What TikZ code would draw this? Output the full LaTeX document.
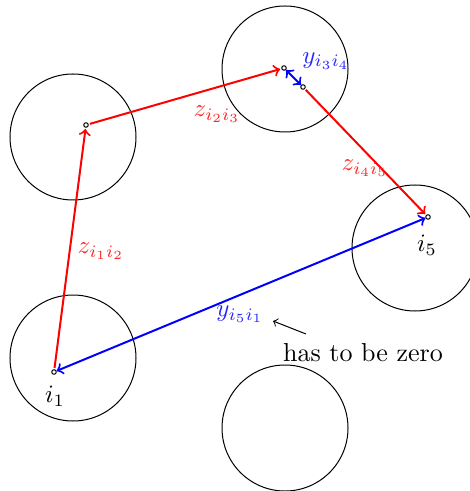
\documentclass[tikz,border=0pt]{standalone}
\begin{document}
\begin{tikzpicture}[x=0.4pt,y=-0.4pt,
  ring/.style={draw,circle,minimum size=50.4pt,inner sep=0pt},
  pt/.style={draw,circle,fill=white,minimum size=1.8pt,inner sep=0pt,line width=0.4pt},
  zarr/.style={->,red,thick,shorten >=0.5pt,shorten <=0.5pt},
  yarr/.style={<->,blue,thick},
  zlab/.style={text=red!85},
  ylab/.style={text=blue!85}]
\useasboundingbox (0,0) rectangle (469,491);
\node[ring] (c1) at (73,137) {};
\node[ring] (c2) at (285,69) {};
\node[ring] (c3) at (415,248) {};
\node[ring] (c4) at (73,358) {};
\node[ring] (c5) at (285,428) {};
\node[pt] (p1) at (54,372) {};
\node[pt] (p2) at (86,125) {};
\node[pt] (p3) at (284,68) {};
\node[pt] (p4) at (303,87) {};
\node[pt] (p5) at (428,217) {};
\draw[zarr] (p1) -- (p2);
\draw[zarr] (p2) -- (p3);
\draw[zarr] (p4) -- (p5);
\draw[yarr] (p3) -- (p4);
\draw[yarr] (p1) -- (p5);
\node[zlab] (l12) at (101,251) {$z_{i_1i_2}$};
\node[zlab] (l23) at (217,114) {$z_{i_2i_3}$};
\node[ylab] (l34) at (326,61) {$y_{i_3i_4}$};
\node[zlab] (l45) at (365,168) {$z_{i_4i_5}$};
\node[ylab] (l51) at (240,314) {$y_{i_5i_1}$};
\node (n5) at (427,245) {$i_5$};
\node (n1) at (55,396) {$i_1$};
\node[font=\fontsize{10.4pt}{12.5pt}\selectfont] (hz) at (363,353) {has to be zero};
\coordinate (a0) at (306,334);
\coordinate (a1) at (273,321);
\draw[->] (a0) -- (a1);
\end{tikzpicture}
\end{document}
